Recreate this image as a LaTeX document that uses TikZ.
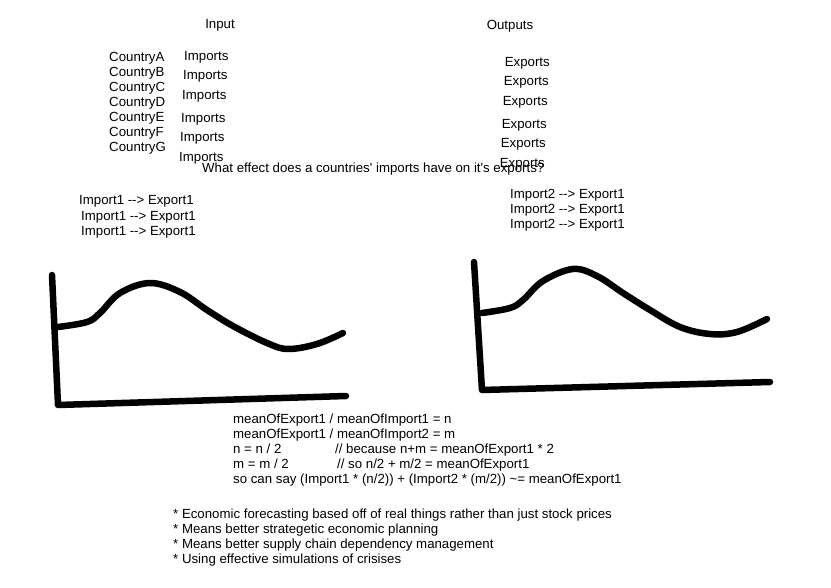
\documentclass[tikz,border=0pt]{standalone}
\usepackage{fontspec}
\setmainfont{Liberation Sans}
\begin{document}
\begin{tikzpicture}[x=1pt,y=-1pt,
  lbl/.style={inner sep=0pt,anchor=west,font=\fontsize{13.25}{15}\selectfont,text height=9pt,text depth=0pt,yshift=-1pt},
  lblc/.style={lbl,anchor=center},
  lble/.style={lbl,anchor=east},
  ink/.style={line width=6.5pt,line cap=round,line join=round}]
\useasboundingbox[fill=white] (0,0) rectangle (831,588);
% headings
\node[lblc] (input) at (220,23) {Input};
\node[lblc] (outputs) at (510,24) {Outputs};
% countries
\node[lbl] (ca) at (109,56) {CountryA};
\node[lbl] (cb) at (109,71) {CountryB};
\node[lbl] (cc) at (109,86) {CountryC};
\node[lbl] (cd) at (109,101) {CountryD};
\node[lbl] (ce) at (109,116) {CountryE};
\node[lbl] (cf) at (109,131) {CountryF};
\node[lbl] (cg) at (109,146) {CountryG};
% imports
\node[lbl] (i1) at (184,55) {Imports};
\node[lbl] (i2) at (183,74) {Imports};
\node[lbl] (i3) at (182,94) {Imports};
\node[lbl] (i4) at (181,117) {Imports};
\node[lbl] (i5) at (180,136) {Imports};
\node[lbl] (i6) at (179,156) {Imports};
% exports
\node[lble] (e1) at (550,61) {Exports};
\node[lble] (e2) at (549,80) {Exports};
\node[lble] (e3) at (548,100) {Exports};
\node[lble] (e4) at (547,123) {Exports};
\node[lble] (e5) at (546,142) {Exports};
\node[lble] (e6) at (545,162) {Exports};
% question
\node[lbl] (q) at (202,167) {What effect does a countries\textquotesingle{} imports have on it\textquotesingle s exports?};
% left mappings
\node[lbl] (l1) at (79,199) {Import1 -{}-> Export1};
\node[lbl] (l2) at (81,215) {Import1 -{}-> Export1};
\node[lbl] (l3) at (81,230) {Import1 -{}-> Export1};
% right mappings
\node[lbl] (r1) at (510,193) {Import2 -{}-> Export1};
\node[lbl] (r2) at (510,208) {Import2 -{}-> Export1};
\node[lbl] (r3) at (510,223) {Import2 -{}-> Export1};
% left plot
\draw[ink] (52,275) -- (58,405) -- (346,396);
\draw[ink] plot[smooth,tension=0.6] coordinates {(58,327) (87,322) (100,313) (120,293) (150,283) (180,292) (207,310) (233,326) (267,343) (288,349) (317,344) (343,333)};
% right plot
\draw[ink] (474,262) -- (482,390) -- (770,382);
\draw[ink] plot[smooth,tension=0.6] coordinates {(482,313) (510,308) (523,300) (543,281) (573,269) (597,276) (623,293) (650,310) (680,327) (710,334) (737,332) (767,319)};
% formulas
\node[lbl] (f1) at (233,418) {meanOfExport1 / meanOfImport1 = n};
\node[lbl] (f2) at (233,433) {meanOfExport1 / meanOfImport2 = m};
\node[lbl] (f3) at (233,448) {n = n / 2};
\node[lbl] (f3c) at (335,448) {// because n+m = meanOfExport1 * 2};
\node[lbl] (f4) at (233,463) {m = m / 2};
\node[lbl] (f4c) at (337,463) {// so n/2 + m/2 = meanOfExport1};
\node[lbl] (f5) at (233,478) {so can say (Import1 * (n/2)) + (Import2 * (m/2)) \textasciitilde= meanOfExport1};
% bullets
\node[lbl] (b1) at (173,513) {* Economic forecasting based off of real things rather than just stock prices};
\node[lbl] (b2) at (173,528) {* Means better strategetic economic planning};
\node[lbl] (b3) at (173,543) {* Means better supply chain dependency management};
\node[lbl] (b4) at (173,558) {* Using effective simulations of crisises};
\end{tikzpicture}
\end{document}
